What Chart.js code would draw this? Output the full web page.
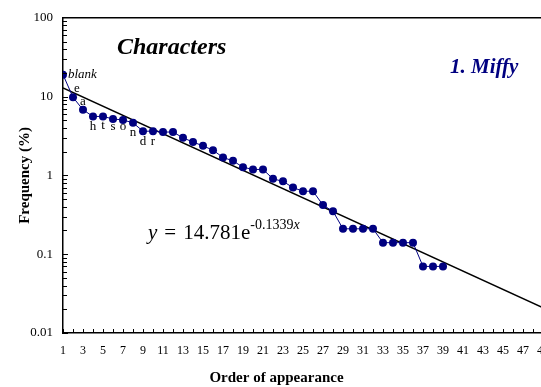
<!DOCTYPE html>
<html>
<head>
<meta charset="utf-8">
<script src="https://cdn.jsdelivr.net/npm/chart.js@4.4.1/dist/chart.umd.min.js"></script>
<style>
  html, body { margin: 0; padding: 0; background: #fff; overflow: hidden; }
  #wrap { width: 600px; height: 387px; }
</style>
</head>
<body>
<div id="wrap"><canvas id="chart" width="600" height="387"></canvas></div>
<script>
// order of appearance and frequency (%)
const order = [1, 2, 3, 4, 5, 6, 7, 8, 9, 10, 11, 12, 13, 14, 15, 16, 17, 18, 19, 20,
               21, 22, 23, 24, 25, 26, 27, 28, 29, 30, 31, 32, 33, 34, 35, 36, 37, 38, 39];
const freq = [19.0, 9.8, 6.8, 5.6, 5.6, 5.2, 5.05, 4.65, 3.64, 3.64,
              3.55, 3.55, 3.0, 2.65, 2.37, 2.09, 1.69, 1.53, 1.27, 1.19,
              1.19, 0.905, 0.84, 0.70, 0.63, 0.63, 0.42, 0.35, 0.21, 0.21,
              0.21, 0.21, 0.14, 0.14, 0.14, 0.14, 0.07, 0.07, 0.07];
const chars = ['blank', 'e', 'a', 'h', 't', 's', 'o', 'n', 'd', 'r'];

const xTicks = [1, 3, 5, 7, 9, 11, 13, 15, 17, 19, 21, 23, 25, 27, 29, 31, 33, 35, 37, 39, 41, 43, 45, 47, 49];
const yTicks = [0.01, 0.1, 1, 10, 100];

// fitted line y = 14.781 e^(-0.1339 x)
const trendA = 14.781;
const trendB = -0.1339;
const trendX = [1, 50];

const SERIF = '"Liberation Serif", "DejaVu Serif", serif';
const NAVY = '#000080';

// offsets of the letter labels from their points (px)
const labelOff = [[5, 0], [4, -9], [0, -8], [0, 10], [0, 9], [0, 8], [0, 7], [0, 10], [0, 10], [0, 10]];

const decor = {
  id: 'decor',
  afterDraw(chart) {
    const ctx = chart.ctx, a = chart.chartArea;
    const xs = chart.scales.x, ys = chart.scales.y;
    ctx.save();
    ctx.strokeStyle = '#000';
    // frame top
    ctx.lineWidth = 1.5;
    ctx.beginPath();
    ctx.moveTo(a.left, a.top);
    ctx.lineTo(a.right, a.top);
    ctx.stroke();
    // inward ticks
    ctx.lineWidth = 1;
    ctx.beginPath();
    for (let i = 1; i <= 50; i++) {
      const px = Math.round(xs.getPixelForValue(i)) + 0.5;
      ctx.moveTo(px, a.bottom);
      ctx.lineTo(px, a.bottom - 4);
    }
    for (let d = 0.01; d < 100; d *= 10) {
      for (let m = 1; m <= 9; m++) {
        const py = Math.round(ys.getPixelForValue(d * m)) + 0.5;
        ctx.moveTo(a.left, py);
        ctx.lineTo(a.left + (m === 1 ? 5 : 4), py);
      }
    }
    ctx.stroke();

    // letter labels
    ctx.fillStyle = '#000';
    ctx.textBaseline = 'middle';
    chars.forEach((c, i) => {
      const px = xs.getPixelForValue(order[i]);
      const py = ys.getPixelForValue(freq[i]);
      if (i === 0) {
        ctx.font = 'italic 13px ' + SERIF;
        ctx.textAlign = 'left';
      } else {
        ctx.font = '13px ' + SERIF;
        ctx.textAlign = 'center';
      }
      ctx.fillText(c, px + labelOff[i][0], py + labelOff[i][1]);
    });

    // headings
    ctx.textAlign = 'left';
    ctx.textBaseline = 'alphabetic';
    ctx.font = 'italic bold 24px ' + SERIF;
    ctx.fillText('Characters', a.left + 54, a.top + 36);
    ctx.fillStyle = NAVY;
    ctx.font = 'italic bold 21px ' + SERIF;
    ctx.fillText('1. Miffy', a.left + 387, a.top + 55);

    // equation
    ctx.fillStyle = '#000';
    let x = a.left + 85;
    const base = 239;
    ctx.font = 'italic 21px ' + SERIF;
    ctx.fillText('y', x, base);
    x += ctx.measureText('y').width + 7;
    ctx.font = '21px ' + SERIF;
    ctx.fillText('=', x, base);
    x += ctx.measureText('=').width + 7;
    const main = trendA + 'e';
    ctx.fillText(main, x, base);
    x += ctx.measureText(main).width;
    ctx.font = '14px ' + SERIF;
    const sup = String(trendB);
    ctx.fillText(sup, x, base - 10);
    x += ctx.measureText(sup).width;
    ctx.font = 'italic 14px ' + SERIF;
    ctx.fillText('x', x, base - 10);
    ctx.restore();
  }
};

new Chart(document.getElementById('chart'), {
  type: 'scatter',
  data: {
    datasets: [
      {
        data: order.map((o, i) => ({ x: o, y: freq[i] })),
        showLine: true,
        borderColor: NAVY,
        backgroundColor: NAVY,
        borderWidth: 1,
        pointRadius: 4,
        pointBorderWidth: 0,
        order: 1
      },
      {
        data: trendX.map(v => ({ x: v, y: trendA * Math.exp(trendB * v) })),
        showLine: true,
        borderColor: '#000',
        borderWidth: 1.5,
        pointRadius: 0,
        order: 2
      }
    ]
  },
  options: {
    responsive: false,
    animation: false,
    layout: { padding: { left: 0, top: 17, right: 47, bottom: 0 } },
    plugins: {
      legend: { display: false },
      tooltip: { enabled: false },
      title: {
        display: true,
        position: 'bottom',
        text: 'Order of appearance',
        color: '#000',
        font: { family: SERIF, size: 15, weight: 'bold' },
        padding: { top: 4, bottom: 0 }
      }
    },
    scales: {
      x: {
        type: 'linear',
        min: 1,
        max: 50,
        grid: { display: false, drawTicks: false },
        border: { display: true, color: '#000', width: 1.5 },
        afterBuildTicks: s => { s.ticks = xTicks.map(v => ({ value: v })); },
        afterFit: s => { s.height = 32; },
        ticks: {
          color: '#000',
          padding: 11,
          maxRotation: 0,
          autoSkip: false,
          font: { family: SERIF, size: 12 },
          callback: v => String(v)
        }
      },
      y: {
        type: 'logarithmic',
        min: 0.01,
        max: 100,
        grid: { display: false, drawTicks: false },
        border: { display: true, color: '#000', width: 1.5 },
        afterBuildTicks: s => { s.ticks = yTicks.map(v => ({ value: v })); },
        afterFit: s => { s.width = 63; },
        title: {
          display: true,
          text: 'Frequency (%)',
          color: '#000',
          font: { family: SERIF, size: 15, weight: 'bold' },
          padding: { top: 16, bottom: 0 }
        },
        ticks: {
          color: '#000',
          padding: 10,
          autoSkip: false,
          font: { family: SERIF, size: 13 },
          callback: v => String(v)
        }
      }
    }
  },
  plugins: [decor]
});
</script>
</body>
</html>
